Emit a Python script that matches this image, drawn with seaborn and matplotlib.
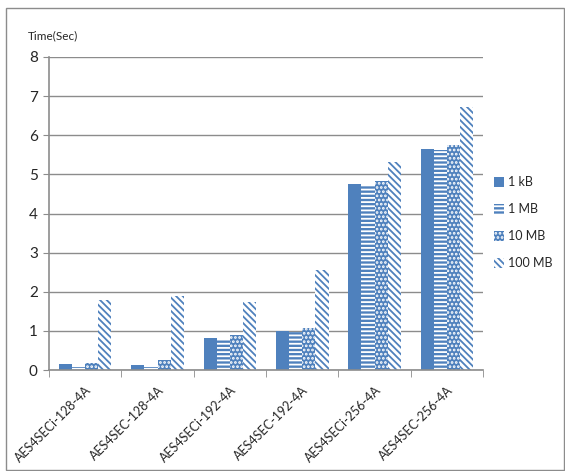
import matplotlib
matplotlib.use("Agg")
import matplotlib.pyplot as plt
import seaborn as sns
import pandas as pd
from matplotlib.patches import Rectangle

categories = ["AES4SECi-128-4A", "AES4SEC-128-4A", "AES4SECi-192-4A",
              "AES4SEC-192-4A", "AES4SECi-256-4A", "AES4SEC-256-4A"]
sizes = ["1 kB", "1 MB", "10 MB", "100 MB"]

t_1kb = [0.15, 0.13, 0.83, 0.99, 4.75, 5.64]
t_1mb = [0.08, 0.08, 0.79, 0.97, 4.73, 5.63]
t_10mb = [0.18, 0.25, 0.89, 1.08, 4.83, 5.75]
t_100mb = [1.78, 1.88, 1.73, 2.55, 5.32, 6.72]

rows = []
for s, vals in zip(sizes, [t_1kb, t_1mb, t_10mb, t_100mb]):
    for c, v in zip(categories, vals):
        rows.append({"cat": c, "size": s, "time": v})
df = pd.DataFrame(rows)

sns.set_style("white")
plt.rcParams["font.family"] = ["Lato", "DejaVu Sans"]
plt.rcParams["hatch.linewidth"] = 1.3

blue = "#4F81BD"
fig = plt.figure(figsize=(5.65, 4.71), dpi=100)
ax = fig.add_axes([0.0867, 0.2144, 0.855 - 0.0867, 0.879 - 0.2144])

sns.barplot(data=df, x="cat", y="time", hue="size", order=categories,
            hue_order=sizes, palette=[blue] * 4, width=0.727, gap=0,
            saturation=1, legend=False, ax=ax)

# fill styles per series
styles = [
    dict(fc=blue, ec=blue, hatch=None),
    dict(fc=blue, ec="white", hatch="----"),
    dict(fc=blue, ec="white", hatch="...."),
    dict(fc="white", ec=blue, hatch="\\" * 5),
]
for cont, st in zip(ax.containers, styles):
    for p in cont.patches:
        p.set_facecolor(st["fc"])
        p.set_edgecolor(st["ec"])
        p.set_linewidth(0)
        if st["hatch"]:
            p.set_hatch(st["hatch"])

ax.set_ylim(0, 8)
ax.set_xlim(-0.5, len(categories) - 0.5)
ax.set_yticks(range(0, 9))
ax.yaxis.grid(True, color="#8c8c8c", linewidth=1)
ax.set_axisbelow(True)
for s in ["top", "right"]:
    ax.spines[s].set_visible(False)
for s in ["left", "bottom"]:
    ax.spines[s].set_color("#8c8c8c")
    ax.spines[s].set_linewidth(1.2)
ax.set_xlabel("")
ax.set_ylabel("")
ax.tick_params(axis="y", left=True, length=4, color="#8c8c8c", labelsize=11, pad=4)
ax.set_xticks([i - 0.5 for i in range(len(categories) + 1)], minor=True)
ax.tick_params(axis="x", which="minor", bottom=True, length=5, color="#8c8c8c")
ax.tick_params(axis="x", which="major", bottom=False, length=0, pad=10)
ax.set_xticks(range(len(categories)))
ax.set_xticklabels(categories, rotation=45, ha="right", rotation_mode="anchor",
                   fontsize=9)

fig.text(0.05, 0.912, "Time(Sec)", fontsize=8.5, ha="left", va="bottom")

ax.legend(handles=list(ax.containers), labels=sizes, loc="center left",
          bbox_to_anchor=(1.0, 0.47), frameon=False, fontsize=9,
          handlelength=0.8, handleheight=0.9, handletextpad=0.3,
          labelspacing=1.2)

fig.patches.append(Rectangle((6 / 565, 0.002), 1 - 6 / 565 - 0.002,
                             1 - 8 / 471 - 0.002, transform=fig.transFigure,
                             fill=False, edgecolor="#8c8c8c", linewidth=1))

fig.savefig("out.png", dpi=100)
